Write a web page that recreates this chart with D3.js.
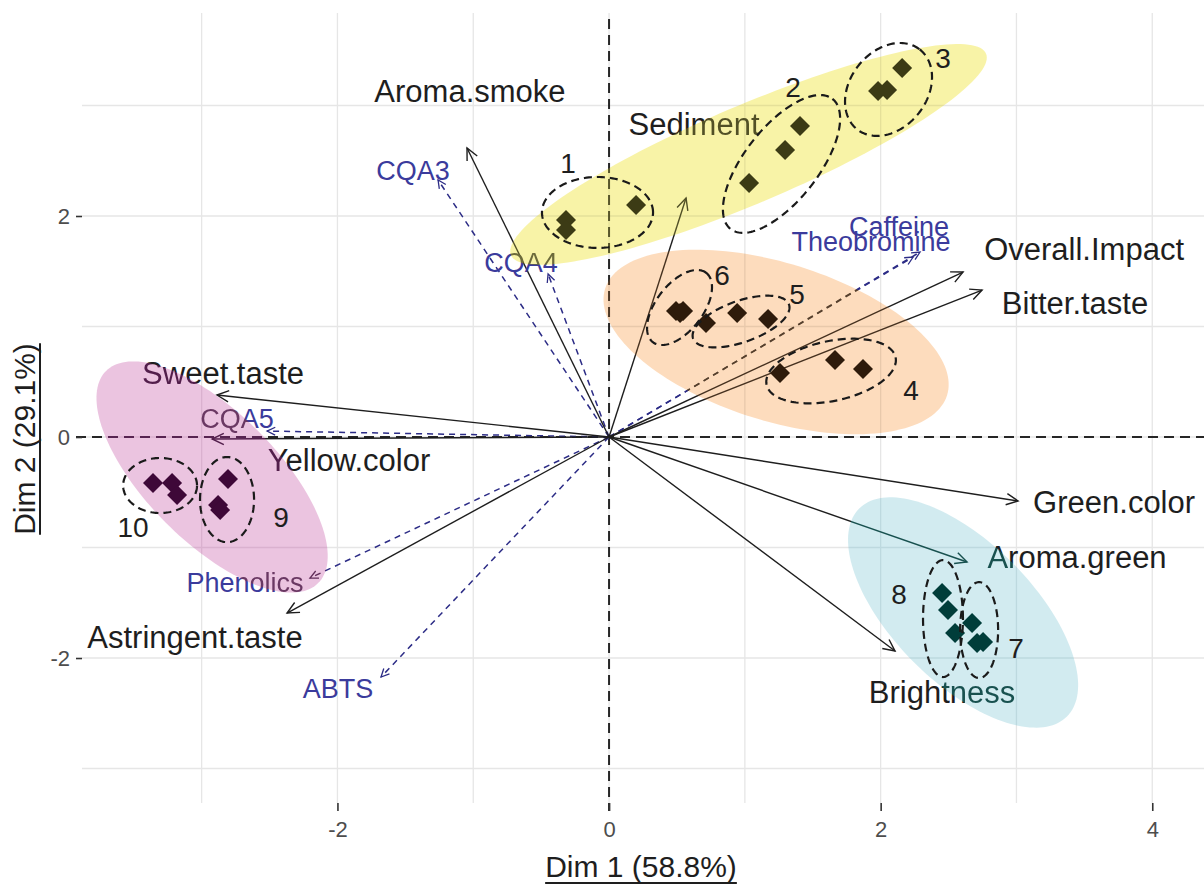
<!DOCTYPE html>
<html>
<head>
<meta charset="utf-8">
<script src="https://cdn.jsdelivr.net/npm/d3@7"></script>
<style>
  html, body { margin: 0; padding: 0; background: #fff; }
  svg { display: block; font-family: "Liberation Sans", Arial, sans-serif; }
</style>
</head>
<body>
<svg id="chart" width="1204" height="884"></svg>
<script>
// ---- PCA scores of the samples (Dim 1, Dim 2) and their cluster ----
const scoreX = [-0.317, -0.317, 0.199,   1.031, 1.296, 1.406,   1.981, 2.047, 2.158,
                1.259, 1.664, 1.870,     0.714, 0.943, 1.171,   0.493, 0.523, 0.545,
                2.673, 2.710, 2.754,     2.452, 2.496, 2.548,   -2.806, -2.879, -2.864,
                -3.358, -3.218, -3.181];
const scoreY = [1.964, 1.873, 2.100,     2.299, 2.597, 2.814,   3.131, 3.140, 3.339,
                0.579, 0.697, 0.615,     1.032, 1.122, 1.068,   1.140, 1.122, 1.140,
                -1.683, -1.864, -1.855,  -1.412, -1.566, -1.774, -0.380, -0.615, -0.661,
                -0.416, -0.416, -0.525];
const scoreCluster = ["1","1","1","2","2","2","3","3","3","4","4","4","5","5","5","6","6","6",
                      "7","7","7","8","8","8","9","9","9","10","10","10"];

// ---- clusters: dashed rings and their numbers ----
const clusters   = ["1","2","3","4","5","6","7","8","9","10"];
const clusterGroup = ["G1","G1","G1","G2","G2","G2","G3","G3","G4","G4"];
const ringCX = [-0.085, 1.270, 2.058, 1.635, 0.972, 0.519, 2.725, 2.459, -2.813, -3.306];
const ringCY = [2.032, 2.471, 3.145, 0.597, 1.045, 1.172, -1.747, -1.643, -0.566, -0.439];
const ringUX = [0.409, 0.375, 0.230, 0.475, 0.353, 0.196, 0.140, 0.147, 0.199, 0.272];
const ringUY = [0, 0.589, 0.362, 0.124, 0.154, 0.314, 0, 0, 0, 0];
const ringVX = [0, 0.2135, 0.223, 0.046, 0.051, 0.137, 0, 0, 0, 0];
const ringVY = [0.321, -0.205, -0.214, -0.265, -0.176, -0.129, 0.434, 0.529, 0.385, 0.249];
const ringLabelX = [-0.302, 1.355, 2.459, 2.224, 1.384, 0.832, 2.997, 2.135, -2.415, -3.505];
const ringLabelY = [2.480, 3.167, 3.430, 0.425, 1.294, 1.466, -1.910, -1.421, -0.724, -0.814];

// ---- group concentration ellipses (centre + two semi-axis vectors) ----
const groups   = ["G1", "G2", "G3", "G4"];
const groupCX  = [1.027, 1.230, 2.607, -2.923];
const groupCY  = [2.557, 0.860, -1.588, -0.362];
const groupUX  = [1.749, 1.259, 0.765, 0.781];
const groupUY  = [0.912, -0.482, -0.941, -0.960];
const groupVX  = [0.141, -0.173, -0.364, -0.339];
const groupVY  = [-0.408, -0.682, -0.448, -0.416];
const groupFill = ["#f8f3a8", "#fddcbd", "#d2ebf1", "#ebc4e0"];
const groupDark = ["#3c3b15", "#2e1b0b", "#003d3a", "#3e0838"];

// ---- active variables (sensory) ----
const varNames  = ["Aroma.smoke", "Sediment", "Overall.Impact", "Bitter.taste", "Sweet.taste",
                   "Yellow.color", "Green.color", "Aroma.green", "Brightness", "Astringent.taste"];
const varX      = [-1.046, 0.567, 2.607, 2.747, -2.887, -2.923, 3.012, 2.636, 2.106, -2.371];
const varY      = [2.615, 2.163, 1.493, 1.330, 0.380, -0.018, -0.579, -1.131, -1.937, -1.593];
const varLabelX = [-1.024, 0.626, 3.498, 3.431, -2.842, -1.915, 3.719, 3.446, 2.452, -3.049];
const varLabelY = [3.131, 2.833, 1.701, 1.213, 0.579, -0.208, -0.588, -1.086, -2.308, -1.810];

// ---- supplementary variables (chemical) ----
const supNames  = ["CQA3", "CQA4", "Caffeine", "Theobromine", "CQA5", "Phenolics", "ABTS"];
const supX      = [-1.259, -0.449, 2.290, 2.239, -2.518, -2.202, -1.679];
const supY      = [2.326, 1.475, 1.674, 1.629, 0.054, -1.276, -2.172];
const supLabelX = [-1.443, -0.648, 2.135, 1.929, -2.739, -2.680, -1.996];
const supLabelY = [2.416, 1.584, 1.910, 1.774, 0.172, -1.312, -2.271];

// ---- axes ----
const xTicks = [-2, 0, 2, 4];
const yTicks = [-2, 0, 2];
const xGrid = [-3, -2, -1, 0, 1, 2, 3, 4];
const yGrid = [-3, -2, -1, 0, 1, 2, 3];
const xTitle = "Dim 1 (58.8%)";
const yTitle = "Dim 2 (29.1%)";

// ===================================================================
const svg = d3.select("#chart");
const P = { left: 82, right: 1204, top: 13, bottom: 803 };
const x = d3.scaleLinear().domain([-3.881, 4.381]).range([P.left, P.right]);
const y = d3.scaleLinear().domain([3.837, -3.312]).range([P.top, P.bottom]);

function ellipsePath(cx, cy, ux, uy, vx, vy, n = 160) {
  const pts = d3.range(n).map(i => {
    const t = 2 * Math.PI * i / n, c = Math.cos(t), s = Math.sin(t);
    return [x(cx + ux * c + vx * s), y(cy + uy * c + vy * s)];
  });
  return d3.line().curve(d3.curveLinearClosed)(pts);
}
function headPath(x1, y1, x2, y2, len, ang) {
  const a = Math.atan2(y2 - y1, x2 - x1);
  const p1 = [x2 - len * Math.cos(a - ang), y2 - len * Math.sin(a - ang)];
  const p2 = [x2 - len * Math.cos(a + ang), y2 - len * Math.sin(a + ang)];
  return `M${p1[0]},${p1[1]}L${x2},${y2}L${p2[0]},${p2[1]}`;
}
function rgb01(hex) { const c = d3.rgb(hex); return [c.r / 255, c.g / 255, c.b / 255]; }

const defs = svg.append("defs");

// ---- base layer: background, grid, reference lines, arrows, labels ----
const ink = defs.append("g").attr("id", "ink");
ink.append("rect").attr("x", P.left).attr("y", P.top)
  .attr("width", P.right - P.left).attr("height", P.bottom - P.top).attr("fill", "#fff");

ink.append("g").selectAll("line").data(xGrid).join("line")
  .attr("x1", d => x(d)).attr("x2", d => x(d)).attr("y1", P.top).attr("y2", P.bottom)
  .attr("stroke", "#e6e6e6").attr("stroke-width", 1.3);
ink.append("g").selectAll("line").data(yGrid).join("line")
  .attr("y1", d => y(d)).attr("y2", d => y(d)).attr("x1", P.left).attr("x2", P.right)
  .attr("stroke", "#e6e6e6").attr("stroke-width", 1.3);

// dashed reference lines through the origin
ink.append("line").attr("x1", x(0)).attr("x2", x(0)).attr("y1", P.top + 6).attr("y2", P.bottom + 8)
  .attr("stroke", "#262626").attr("stroke-width", 2).attr("stroke-dasharray", "10 6");
ink.append("line").attr("y1", y(0)).attr("y2", y(0)).attr("x1", P.left - 6).attr("x2", P.right)
  .attr("stroke", "#262626").attr("stroke-width", 2).attr("stroke-dasharray", "10 6");

// supplementary variable arrows (dashed blue)
const supG = ink.append("g");
supNames.forEach((n, i) => {
  const x1 = x(0), y1 = y(0), x2 = x(supX[i]), y2 = y(supY[i]);
  supG.append("line").attr("x1", x1).attr("y1", y1).attr("x2", x2).attr("y2", y2)
    .attr("stroke", "#2c2c86").attr("stroke-width", 1.5).attr("stroke-dasharray", "6 5");
  supG.append("path").attr("d", headPath(x1, y1, x2, y2, 9, Math.PI / 7))
    .attr("fill", "none").attr("stroke", "#2c2c86").attr("stroke-width", 1.3);
});

// active variable arrows (solid black)
const varG = ink.append("g");
varNames.forEach((n, i) => {
  const x1 = x(0), y1 = y(0), x2 = x(varX[i]), y2 = y(varY[i]);
  varG.append("line").attr("x1", x1).attr("y1", y1).attr("x2", x2).attr("y2", y2)
    .attr("stroke", "#1e1e1e").attr("stroke-width", 1.4);
  varG.append("path").attr("d", headPath(x1, y1, x2, y2, 13, Math.PI / 7))
    .attr("fill", "none").attr("stroke", "#1e1e1e").attr("stroke-width", 1.4);
});

// labels
ink.append("g").selectAll("text").data(supNames).join("text")
  .attr("x", (d, i) => x(supLabelX[i])).attr("y", (d, i) => y(supLabelY[i]))
  .attr("dy", "0.36em").attr("text-anchor", "middle")
  .attr("font-size", 27).attr("fill", "#3b3b9c").text(d => d);
ink.append("g").selectAll("text").data(varNames).join("text")
  .attr("x", (d, i) => x(varLabelX[i])).attr("y", (d, i) => y(varLabelY[i]))
  .attr("dy", "0.36em").attr("text-anchor", "middle")
  .attr("font-size", 31).attr("fill", "#1e1e1e").text(d => d);

// ---- group ellipses: the base layer seen through each ellipse is re-coloured ----
groups.forEach((g, i) => {
  defs.append("clipPath").attr("id", "clip-" + g)
    .append("path").attr("d", ellipsePath(groupCX[i], groupCY[i], groupUX[i], groupUY[i], groupVX[i], groupVY[i]));
  const lo = rgb01(groupDark[i]), hi = rgb01(groupFill[i]);
  const f = defs.append("filter").attr("id", "tint-" + g)
    .attr("color-interpolation-filters", "sRGB")
    .attr("x", 0).attr("y", 0).attr("width", 1).attr("height", 1);
  f.append("feColorMatrix").attr("type", "matrix")
    .attr("values", "0.2126 0.7152 0.0722 0 0 0.2126 0.7152 0.0722 0 0 0.2126 0.7152 0.0722 0 0 0 0 0 1 0");
  const ct = f.append("feComponentTransfer");
  ["R", "G", "B"].forEach((ch, k) => {
    ct.append("feFunc" + ch).attr("type", "linear")
      .attr("slope", hi[k] - lo[k]).attr("intercept", lo[k]);
  });
});

svg.append("use").attr("href", "#ink");
const tinted = svg.append("g");
groups.forEach(g => {
  tinted.append("g").attr("clip-path", `url(#clip-${g})`)
    .append("use").attr("href", "#ink").attr("filter", `url(#tint-${g})`);
});

// ---- sample points ----
const diamond = d3.symbol(d3.symbolSquare, 200)();
svg.append("g").selectAll("path").data(scoreCluster).join("path")
  .attr("d", diamond)
  .attr("transform", (d, i) => `translate(${x(scoreX[i])},${y(scoreY[i])}) rotate(45)`)
  .attr("fill", d => groupDark[groups.indexOf(clusterGroup[clusters.indexOf(d)])]);

// ---- cluster rings and numbers ----
svg.append("g").selectAll("path").data(clusters).join("path")
  .attr("d", (d, i) => ellipsePath(ringCX[i], ringCY[i], ringUX[i], ringUY[i], ringVX[i], ringVY[i]))
  .attr("fill", "none").attr("stroke", "#1a1a1a").attr("stroke-width", 2.2)
  .attr("stroke-dasharray", "8 5");
svg.append("g").selectAll("text").data(clusters).join("text")
  .attr("x", (d, i) => x(ringLabelX[i])).attr("y", (d, i) => y(ringLabelY[i]))
  .attr("dy", "0.36em").attr("text-anchor", "middle")
  .attr("font-size", 28).attr("fill", "#1e1e1e").text(d => d);

// ---- axes ----
const fmt = d => String(d);
const ax = svg.append("g").attr("transform", `translate(0,${P.bottom})`)
  .call(d3.axisBottom(x).tickValues(xTicks).tickSize(8).tickPadding(10).tickFormat(fmt));
const ay = svg.append("g").attr("transform", `translate(${P.left},0)`)
  .call(d3.axisLeft(y).tickValues(yTicks).tickSize(6).tickPadding(6).tickFormat(fmt));
[ax, ay].forEach(a => {
  a.select(".domain").remove();
  a.selectAll(".tick line").attr("stroke", "#333").attr("stroke-width", 1.6);
  a.selectAll(".tick text").attr("font-size", 22).attr("fill", "#4d4d4d")
    .attr("font-family", "Liberation Sans, Arial, sans-serif");
});

// axis titles (underlined)
const tx = svg.append("text").attr("x", 641).attr("y", 877).attr("text-anchor", "middle")
  .attr("font-size", 30).attr("fill", "#1e1e1e").text(xTitle);
const bx = tx.node().getBBox();
svg.append("line").attr("x1", bx.x).attr("x2", bx.x + bx.width).attr("y1", 883).attr("y2", 883)
  .attr("stroke", "#1e1e1e").attr("stroke-width", 2);

const ty = svg.append("g").attr("transform", "translate(35,439) rotate(-90)");
const tyt = ty.append("text").attr("x", 0).attr("y", 0).attr("text-anchor", "middle")
  .attr("font-size", 30).attr("fill", "#1e1e1e").text(yTitle);
const by = tyt.node().getBBox();
ty.append("line").attr("x1", by.x).attr("x2", by.x + by.width).attr("y1", 5).attr("y2", 5)
  .attr("stroke", "#1e1e1e").attr("stroke-width", 2);
</script>
</body>
</html>
